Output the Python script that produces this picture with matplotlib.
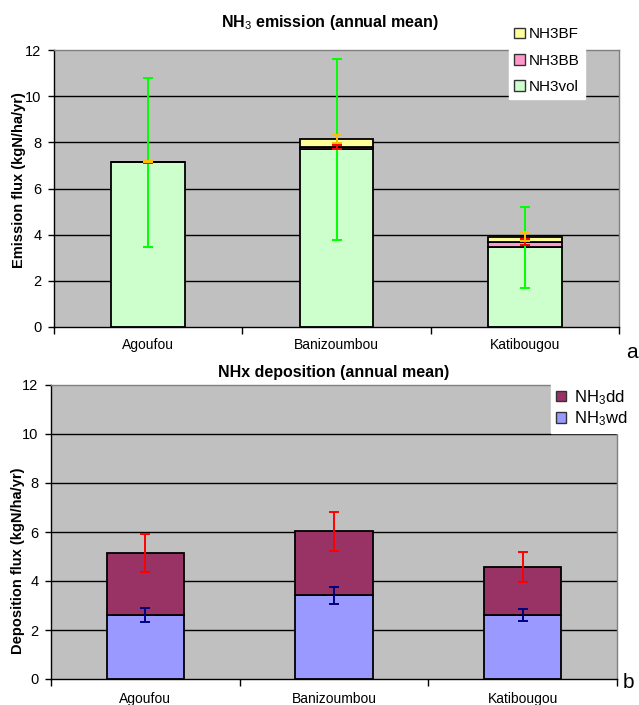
import matplotlib
matplotlib.use("Agg")
import matplotlib.pyplot as plt
from matplotlib.patches import Patch
import numpy as np

plt.rcParams['font.family'] = ['Liberation Sans', 'DejaVu Sans']
plt.rcParams['mathtext.fontset'] = 'custom'
plt.rcParams['mathtext.rm'] = 'Liberation Sans'
plt.rcParams['mathtext.it'] = 'Liberation Sans:italic'
plt.rcParams['mathtext.bf'] = 'Liberation Sans:bold'

# ---------------- data ----------------
sites = ["Agoufou", "Banizoumbou", "Katibougou"]

# emission (kgN/ha/yr)
nh3_vol = [7.14, 7.69, 3.46]
nh3_bb = [0.01, 0.11, 0.22]
nh3_bf = [0.01, 0.35, 0.23]
nh3_vol_err = [3.66, 3.93, 1.75]
nh3_bb_err = [0.03, 0.08, 0.13]
nh3_bf_err = [0.03, 0.17, 0.19]

# deposition (kgN/ha/yr)
nh3_wd = [2.61, 3.42, 2.61]
nh3_dd = [2.52, 2.61, 1.97]
nh3_wd_err = [0.28, 0.35, 0.25]
nh3_dd_err = [0.77, 0.80, 0.61]

yticks = [0, 2, 4, 6, 8, 10, 12]

# ---------------- figure ----------------
W, H = 639, 705
fig = plt.figure(figsize=(W / 100, H / 100), dpi=100)

def ax_rect(l, r, t, b):
    return [l / W, 1 - b / H, (r - l) / W, (b - t) / H]

ax1 = fig.add_axes(ax_rect(54, 619, 50, 327))
ax2 = fig.add_axes(ax_rect(51, 617, 385, 679))

C_VOL, C_BB, C_BF = "#CCFFCC", "#FF99CC", "#FFFF99"
C_DD, C_WD = "#993366", "#9999FF"
BG = "#C0C0C0"

x = np.arange(len(sites))


def style_axes(ax, pad_lbl):
    ax.set_facecolor(BG)
    ax.set_xlim(-0.5, len(sites) - 0.5)
    ax.set_ylim(0, 12)
    ax.set_yticks(yticks)
    ax.set_yticklabels([str(v) for v in yticks], fontsize=10.5)
    ax.tick_params(axis='y', direction='out', length=4, width=1, pad=5)
    ax.set_xticks(np.arange(-0.5, len(sites)), minor=False)
    ax.set_xticklabels([])
    ax.tick_params(axis='x', which='major', direction='out', length=5, width=1)
    ax.set_xticks(x, minor=True)
    ax.set_xticklabels(sites, minor=True, fontsize=10)
    ax.tick_params(axis='x', which='minor', length=0, pad=pad_lbl)
    for yy in yticks[1:-1]:
        ax.axhline(yy, color='black', lw=1, zorder=0.5)
    ax.spines['left'].set_color('black')
    ax.spines['bottom'].set_color('black')
    ax.spines['top'].set_color('#808080')
    ax.spines['right'].set_color('#808080')
    for s in ax.spines.values():
        s.set_linewidth(1)


style_axes(ax1, 8)
style_axes(ax2, 9.5)

# ---- emission panel ----
bw1 = 0.39
vol = np.array(nh3_vol)
bb = np.array(nh3_bb)
bf = np.array(nh3_bf)
ax1.bar(x, vol, bw1, color=C_VOL, edgecolor='black', lw=1.3, zorder=2)
ax1.bar(x, bb, bw1, bottom=vol, color=C_BB, edgecolor='black', lw=1.3, zorder=2)
ax1.bar(x, bf, bw1, bottom=vol + bb, color=C_BF, edgecolor='black', lw=1.3, zorder=2)

ekw = dict(fmt='none', capsize=3.6, elinewidth=1.4, capthick=1.4, zorder=4)
ax1.errorbar(x, vol, yerr=nh3_vol_err, ecolor='#00FF00', **ekw)
ax1.errorbar(x, vol + bb, yerr=nh3_bb_err, ecolor='#FF0000', **ekw)
ax1.errorbar(x, vol + bb + bf, yerr=nh3_bf_err, ecolor='#FFC000', **ekw)

fig.text(330 / W, 1 - 23 / H, "NH$_3$ emission (annual mean)", ha='center', va='center',
         fontsize=11.5, fontweight='bold')
fig.text(19 / W, 1 - 180 / H, "Emission flux (kgN/ha/yr)", rotation=90, ha='center', va='center',
         fontsize=10.5, fontweight='bold')

h1 = [Patch(facecolor=C_BF, edgecolor='#333333', lw=1),
      Patch(facecolor=C_BB, edgecolor='#333333', lw=1),
      Patch(facecolor=C_VOL, edgecolor='#333333', lw=1)]
leg1 = fig.legend(h1, ["NH3BF", "NH3BB", "NH3vol"], loc='upper left',
                  bbox_to_anchor=(509 / W, 1 - 22 / H), fontsize=11,
                  frameon=True, fancybox=False, facecolor='white', edgecolor='white',
                  framealpha=1, handlelength=0.7, handleheight=0.7, handletextpad=0.25,
                  labelspacing=0.8, borderpad=0.35, borderaxespad=0)

fig.text(632 / W, 1 - 352 / H, "a", ha='center', va='center', fontsize=15)

# ---- deposition panel ----
bw2 = 0.41
wd = np.array(nh3_wd)
dd = np.array(nh3_dd)
ax2.bar(x, wd, bw2, color=C_WD, edgecolor='black', lw=1.3, zorder=2)
ax2.bar(x, dd, bw2, bottom=wd, color=C_DD, edgecolor='black', lw=1.3, zorder=2)
ax2.errorbar(x, wd, yerr=nh3_wd_err, ecolor='#000080', **ekw)
ax2.errorbar(x, wd + dd, yerr=nh3_dd_err, ecolor='#FF0000', **ekw)

fig.text(334 / W, 1 - 373 / H, "NHx deposition (annual mean)", ha='center', va='center',
         fontsize=11.5, fontweight='bold')
fig.text(18 / W, 1 - 561 / H, "Deposition flux (kgN/ha/yr)", rotation=90, ha='center', va='center',
         fontsize=10.5, fontweight='bold')

h2 = [Patch(facecolor=C_DD, edgecolor='#333333', lw=1),
      Patch(facecolor=C_WD, edgecolor='#333333', lw=1)]
leg2 = fig.legend(h2, ["NH$_3$dd", "NH$_3$wd"], loc='upper left',
                  bbox_to_anchor=(551 / W, 1 - 383 / H), fontsize=12,
                  frameon=True, fancybox=False, facecolor='white', edgecolor='white',
                  framealpha=1, handlelength=0.6, handleheight=0.6, handletextpad=0.5,
                  labelspacing=0.15, borderpad=0.3, borderaxespad=0)

fig.text(628 / W, 1 - 683 / H, "b", ha='center', va='center', fontsize=15)

fig.savefig("out.png", dpi=100)
